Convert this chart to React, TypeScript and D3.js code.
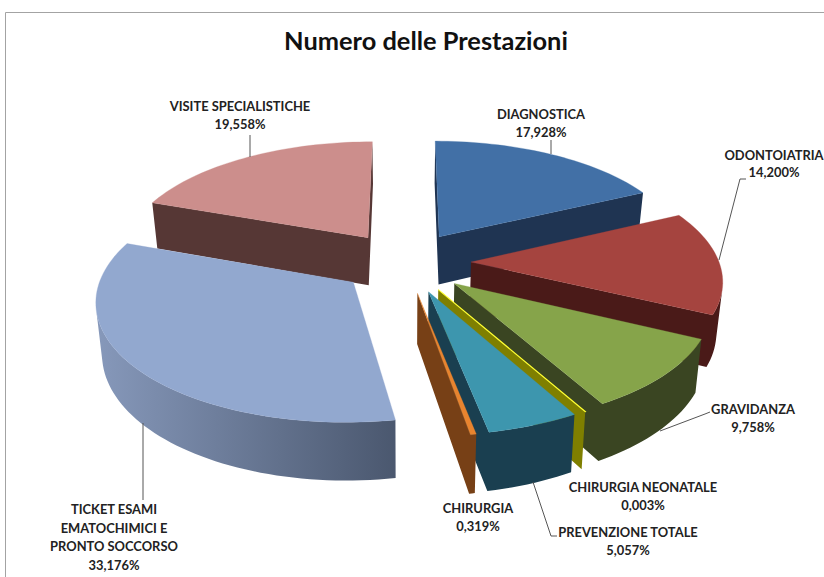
import React from 'react';
import * as d3 from 'd3';

const categories = ['DIAGNOSTICA', 'ODONTOIATRIA', 'GRAVIDANZA', 'CHIRURGIA NEONATALE', 'PREVENZIONE TOTALE', 'CHIRURGIA', 'TICKET ESAMI EMATOCHIMICI E PRONTO SOCCORSO', 'VISITE SPECIALISTICHE'];
const shares = [17.928, 14.2, 9.758, 0.003, 5.057, 0.319, 33.176, 19.558];
const topColors = ['#4270a6', '#a5443f', '#86a44a', '#ffff33', '#3d96ae', '#e8842f', '#92a8cf', '#cc8e8c'];
const sideColors = ['#1f3452', '#4a1a18', '#3a4522', '#7f7f00', '#1a3f50', '#774016', 'url(#ticketSide)', '#563735'];

// label layout: text lines, centre x, first baseline
const labelLines = [
  ['DIAGNOSTICA', '17,928%'],
  ['ODONTOIATRIA', '14,200%'],
  ['GRAVIDANZA', '9,758%'],
  ['CHIRURGIA NEONATALE', '0,003%'],
  ['PREVENZIONE TOTALE', '5,057%'],
  ['CHIRURGIA', '0,319%'],
  ['TICKET ESAMI', 'EMATOCHIMICI E', 'PRONTO SOCCORSO', '33,176%'],
  ['VISITE SPECIALISTICHE', '19,558%'],
];
const labelX = [541, 774, 753, 643, 628, 478, 114, 240];
const labelY = [119, 160, 414, 492, 537, 513, 514, 111];
const labelStep = [18, 17, 18, 18, 18, 18, 18.6, 18];
const leaders: [number, number][][] = [
  [[551, 140], [551, 154]],
  [[746, 179], [740, 179], [719, 260]],
  [[710, 412], [705, 414], [660, 431]],
  [],
  [[533, 482], [551, 536], [557, 536]],
  [],
  [[143, 423], [143, 500]],
  [[250, 135], [250, 157]],
];

const width = 824;
const height = 577;
const cx = 405;
const cy = 262;
const radius = 248;
const explode = 66;
const tilt = 0.464;
const persp = 0.000547;
const depth = 49;
const shrink = 0.98;

const project = (x: number, y: number, bottom = false): [number, number] => {
  const s = 1 / (1 - persp * y);
  const px = cx + x * s * (bottom ? shrink : 1);
  const py = cy + tilt * y * s + (bottom ? depth * s : 0);
  return [px, py];
};

const line = d3.line();

const arcs = d3.pie<number>().sort(null).value((d) => d)(shares);

const slices = arcs.map((a, i) => {
  const mid = (a.startAngle + a.endAngle) / 2;
  const ox = explode * Math.sin(mid);
  const oy = -explode * Math.cos(mid);
  const steps = Math.max(2, Math.ceil((a.endAngle - a.startAngle) / 0.03));
  const angles = d3.range(steps + 1).map((k) => a.startAngle + ((a.endAngle - a.startAngle) * k) / steps);
  const rim = angles.map((t) => [ox + radius * Math.sin(t), oy - radius * Math.cos(t)]);
  const top = [project(ox, oy), ...rim.map((p) => project(p[0], p[1]))];
  let walls = '';
  const addWall = (p: number[], q: number[]) => {
    // keeps the quad only when it faces the viewer
    const quad = [project(p[0], p[1]), project(q[0], q[1]), project(q[0], q[1], true), project(p[0], p[1], true)];
    if (d3.polygonArea(quad) > 0) walls += line(quad) + 'Z';
  };
  addWall([ox, oy], rim[0]);
  addWall(rim[rim.length - 1], [ox, oy]);
  // outer wall goes in as one strip so the segments leave no seams
  const visible = d3.pairs(rim).filter(([p, q]) => {
    const quad = [project(p[0], p[1]), project(q[0], q[1]), project(q[0], q[1], true), project(p[0], p[1], true)];
    return d3.polygonArea(quad) > 0;
  });
  if (visible.length) {
    const edge = [visible[0][0], ...visible.map((v) => v[1])];
    const strip = [...edge.map((p) => project(p[0], p[1])), ...edge.slice().reverse().map((p) => project(p[0], p[1], true))];
    walls += line(strip) + 'Z';
  }
  return { i, oy, top: line(top) + 'Z', walls, isThin: a.endAngle - a.startAngle < 0.001 };
});

const drawOrder = d3.sort(slices, (d) => d.oy);

export default function App() {
  return (
    <svg width={width} height={height} style={{ position: 'absolute', left: 0, top: 0, background: '#fff', display: 'block' }}>
      <defs>
        <linearGradient id="ticketSide" gradientUnits="userSpaceOnUse" x1={98} x2={398} y1={0} y2={0}>
          <stop offset="0" stopColor="#8698ba" />
          <stop offset="1" stopColor="#4a576e" />
        </linearGradient>
      </defs>
      <path d={`M5.5 ${height}V12.5H${width}`} fill="none" stroke="#a3a3a3" strokeWidth={1} />
      <text x={426} y={50} textAnchor="middle" fontFamily="Lato" fontWeight={700} fontSize={25.4} fill="#111">
        Numero delle Prestazioni
      </text>
      {drawOrder.map((s) => (
        <g key={categories[s.i]}>
          <path d={s.walls} fill={sideColors[s.i]} />
          <path d={s.top} fill={topColors[s.i]} stroke={topColors[s.i]} strokeWidth={s.isThin ? 1.2 : 0.3} />
        </g>
      ))}
      {leaders.map((pts, i) => (
        <path key={i} d={pts.length ? line(pts) ?? '' : ''} fill="none" stroke="#555" strokeWidth={1} />
      ))}
      {labelLines.map((lines, i) =>
        lines.map((t, k) => (
          <text key={t} x={labelX[i]} y={labelY[i] + k * labelStep[i]} textAnchor="middle" fontFamily="Lato" fontWeight={700} fontSize={12.9} fill="#222">
            {t}
          </text>
        ))
      )}
    </svg>
  );
}
